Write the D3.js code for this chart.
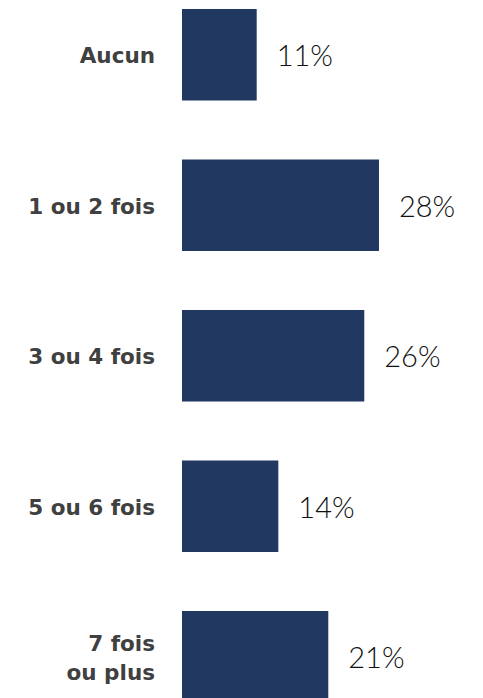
<!DOCTYPE html>
<html>
<head>
<meta charset="utf-8">
<script src="https://cdn.jsdelivr.net/npm/d3@7"></script>
<style>
  html, body { margin: 0; padding: 0; background: #ffffff; overflow: hidden; }
  svg { display: block; }
</style>
</head>
<body>
<div id="chart"></div>
<script>
const categories = ["Aucun", "1 ou 2 fois", "3 ou 4 fois", "5 ou 6 fois", "7 fois\nou plus"];
const values = [10.67, 28.14, 26.04, 13.76, 20.9];
const valueLabels = ["11%", "28%", "26%", "14%", "21%"];

const W = 483, H = 698;
const svg = d3.select("#chart").append("svg").attr("width", W).attr("height", H);

const x = d3.scaleLinear().domain([0, 30]).range([182, 392]);
const y = d3.scaleBand().domain(categories).range([-20.5, 732])
  .paddingInner(0.392).paddingOuter(0.196);

const data = categories.map((c, i) => ({ c, v: values[i], l: valueLabels[i] }));

svg.selectAll("rect.bar").data(data).join("rect")
  .attr("class", "bar")
  .attr("x", x(0))
  .attr("y", d => y(d.c))
  .attr("width", d => x(d.v) - x(0))
  .attr("height", y.bandwidth())
  .attr("fill", "#213961");

svg.selectAll("text.val").data(data).join("text")
  .attr("class", "val")
  .attr("x", d => x(d.v) + 20)
  .attr("y", d => y(d.c) + y.bandwidth() / 2 + 11.5)
  .attr("font-family", "Lato, 'DejaVu Sans', sans-serif")
  .attr("font-weight", 300)
  .attr("font-size", 29)
  .attr("fill", "#111111")
  .text(d => d.l);

const cat = svg.selectAll("text.cat").data(data).join("text")
  .attr("class", "cat")
  .attr("text-anchor", "end")
  .attr("font-family", "'DejaVu Sans', sans-serif")
  .attr("font-weight", "bold")
  .attr("font-size", 21.5)
  .attr("fill", "#404040");

cat.each(function(d) {
  const lines = d.c.split("\n");
  const cy = y(d.c) + y.bandwidth() / 2;
  const t = d3.select(this);
  lines.forEach((ln, j) => {
    const base = lines.length === 1 ? cy + 8.5 : cy - 6 + j * 29;
    t.append("tspan").attr("x", 155).attr("y", base).text(ln);
  });
});
</script>
</body>
</html>
